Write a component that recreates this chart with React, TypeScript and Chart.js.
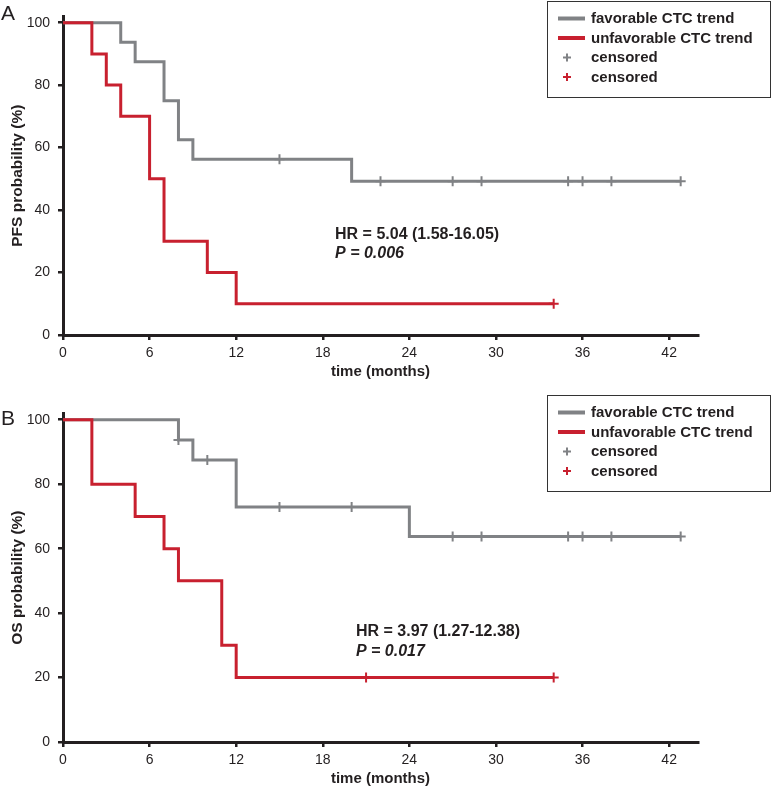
import React, { useEffect, useRef } from "react";
import { Chart, registerables } from "chart.js";
Chart.register(...registerables);

const GRAY = "#808285";
const RED = "#c8202f";
const INK = "#231f20";
const FONT = "'Liberation Sans', Arial, Helvetica, sans-serif";

// ---------- Panel A: PFS ----------
const pfsFavTimes = [0, 4, 5, 7, 8, 9, 20, 42.8];
const pfsFavSurv = [100, 93.75, 87.5, 75, 62.5, 56.25, 49.2, 49.2];
const pfsFavCensTimes = [15, 22, 27, 29, 35, 36, 38, 42.8];
const pfsFavCensSurv = [56.25, 49.2, 49.2, 49.2, 49.2, 49.2, 49.2, 49.2];
const pfsUnfTimes = [0, 2, 3, 4, 6, 7, 10, 12, 34];
const pfsUnfSurv = [100, 90, 80, 70, 50, 30, 20, 10, 10];
const pfsUnfCensTimes = [34];
const pfsUnfCensSurv = [10];
const pfsStats = ["HR = 5.04 (1.58-16.05)", "P = 0.006"];

// ---------- Panel B: OS ----------
const osFavTimes = [0, 8, 9, 12, 24, 42.8];
const osFavSurv = [100, 93.75, 87.5, 72.9, 63.8, 63.8];
const osFavCensTimes = [8, 10, 15, 20, 27, 29, 35, 36, 38, 42.8];
const osFavCensSurv = [93.75, 87.5, 72.9, 72.9, 63.8, 63.8, 63.8, 63.8, 63.8, 63.8];
const osUnfTimes = [0, 2, 5, 7, 8, 11, 12, 34];
const osUnfSurv = [100, 80, 70, 60, 50, 30, 20, 20];
const osUnfCensTimes = [21, 34];
const osUnfCensSurv = [20, 20];
const osStats = ["HR = 3.97 (1.27-12.38)", "P = 0.017"];

// ---------- axes / legend ----------
const xTickValues = [0, 6, 12, 18, 24, 30, 36, 42];
const yTickValues = [0, 20, 40, 60, 80, 100];
const xTitle = "time (months)";
const legendLabels = ["favorable CTC trend", "unfavorable CTC trend", "censored", "censored"];

const pts = (xs: number[], ys: number[]) => xs.map((x, i) => ({ x, y: ys[i] }));

const overlayPlugin = {
  id: "kmOverlay",
  afterDraw(chart: any, _args: any, opts: any) {
    const { ctx } = chart;
    const xs = chart.scales.x;
    const ys = chart.scales.y;
    ctx.save();
    // panel letter
    ctx.fillStyle = INK;
    ctx.font = `21px ${FONT}`;
    ctx.textAlign = "left";
    ctx.textBaseline = "alphabetic";
    ctx.fillText(opts.letter, 1, opts.letterBase);

    // legend box
    const bx = 547.5, by = opts.legendTop + 0.5, bw = 223, bh = 96;
    ctx.fillStyle = "#ffffff";
    ctx.fillRect(bx, by, bw, bh);
    ctx.strokeStyle = "#333333";
    ctx.lineWidth = 1;
    ctx.strokeRect(bx, by, bw, bh);
    const colors = [GRAY, RED, GRAY, RED];
    legendLabels.forEach((lab, i) => {
      const ry = opts.legendTop + 17.5 + 19.5 * i;
      ctx.strokeStyle = colors[i];
      if (i < 2) {
        ctx.lineWidth = 4;
        ctx.beginPath();
        ctx.moveTo(558, ry);
        ctx.lineTo(585, ry);
        ctx.stroke();
      } else {
        ctx.lineWidth = 2;
        ctx.beginPath();
        ctx.moveTo(563, ry);
        ctx.lineTo(571, ry);
        ctx.moveTo(567, ry - 4);
        ctx.lineTo(567, ry + 4);
        ctx.stroke();
      }
      ctx.fillStyle = INK;
      ctx.font = `bold 15px ${FONT}`;
      ctx.textBaseline = "middle";
      ctx.fillText(lab, 591, ry + 0.5);
    });

    // stats annotation
    const ax = xs.getPixelForValue(opts.statX);
    const ay = ys.getPixelForValue(opts.statY);
    ctx.fillStyle = INK;
    ctx.textBaseline = "middle";
    ctx.font = `bold 16px ${FONT}`;
    ctx.fillText(opts.stats[0], ax, ay);
    ctx.font = `italic bold 16px ${FONT}`;
    ctx.fillText(opts.stats[1], ax, ay + 19.5);
    ctx.restore();
  },
};

type PanelCfg = {
  top: number;
  height: number;
  padTop: number;
  padBottom: number;
  yTitle: string;
  fav: { x: number; y: number }[];
  favCens: { x: number; y: number }[];
  unf: { x: number; y: number }[];
  unfCens: { x: number; y: number }[];
  overlay: any;
};

function Panel({ cfg }: { cfg: PanelCfg }) {
  const ref = useRef<HTMLCanvasElement>(null);
  useEffect(() => {
    const lineDs = (data: any, color: string) => ({
      data,
      showLine: true,
      stepped: "before",
      borderColor: color,
      borderWidth: 3,
      pointRadius: 0,
      fill: false,
    });
    const censDs = (data: any, color: string) => ({
      data,
      showLine: false,
      pointStyle: "cross",
      pointRadius: 5,
      pointBorderWidth: 2,
      borderColor: color,
      backgroundColor: color,
    });
    const chart = new Chart(ref.current as HTMLCanvasElement, {
      type: "scatter",
      data: {
        datasets: [
          censDs(cfg.unfCens, RED),
          lineDs(cfg.unf, RED),
          censDs(cfg.favCens, GRAY),
          lineDs(cfg.fav, GRAY),
        ] as any,
      },
      options: {
        responsive: false,
        animation: false,
        devicePixelRatio: 1,
        layout: { padding: { left: 0, right: 75, top: cfg.padTop, bottom: cfg.padBottom } },
        plugins: {
          legend: { display: false },
          tooltip: { enabled: false },
          kmOverlay: cfg.overlay,
        } as any,
        scales: {
          x: {
            type: "linear",
            min: 0,
            max: 44,
            afterBuildTicks: (s: any) => {
              s.ticks = xTickValues.map((v) => ({ value: v }));
            },
            afterFit: (s: any) => {
              s.height = 46;
            },
            grid: {
              drawOnChartArea: false,
              drawTicks: true,
              tickLength: 5,
              tickWidth: 2.5,
              tickColor: INK,
              color: INK,
              lineWidth: 2.5,
            },
            border: { display: true, color: INK, width: 3 },
            ticks: { color: INK, padding: 5, font: { family: FONT, size: 14 }, maxRotation: 0 },
            title: {
              display: true,
              text: xTitle,
              color: INK,
              font: { family: FONT, size: 15, weight: "bold" },
              padding: { top: 0, bottom: 0 },
            },
          },
          y: {
            type: "linear",
            min: 0,
            max: 102,
            afterBuildTicks: (s: any) => {
              s.ticks = yTickValues.map((v) => ({ value: v }));
            },
            afterFit: (s: any) => {
              s.width = 63;
            },
            grid: {
              drawOnChartArea: false,
              drawTicks: true,
              tickLength: 5,
              tickWidth: 2.5,
              tickColor: INK,
              color: INK,
              lineWidth: 2.5,
            },
            border: { display: true, color: INK, width: 3 },
            ticks: { color: INK, padding: 8, font: { family: FONT, size: 14 } },
            title: {
              display: true,
              text: cfg.yTitle,
              color: INK,
              font: { family: FONT, size: 15.5, weight: "bold" },
              padding: { top: 8, bottom: 0 },
            },
          },
        },
      } as any,
      plugins: [overlayPlugin as any],
    });
    return () => chart.destroy();
  }, []);
  return (
    <canvas
      ref={ref}
      width={773}
      height={cfg.height}
      style={{ position: "absolute", left: 0, top: cfg.top, width: 773, height: cfg.height }}
    />
  );
}

const panelA: PanelCfg = {
  top: 0,
  height: 388,
  padTop: 5.6,
  padBottom: 7,
  yTitle: "PFS probability (%)",
  fav: pts(pfsFavTimes, pfsFavSurv),
  favCens: pts(pfsFavCensTimes, pfsFavCensSurv),
  unf: pts(pfsUnfTimes, pfsUnfSurv),
  unfCens: pts(pfsUnfCensTimes, pfsUnfCensSurv),
  overlay: { letter: "A", letterBase: 20, legendTop: 1, stats: pfsStats, statX: 18.85, statY: 32.3 },
};

const panelB: PanelCfg = {
  top: 388,
  height: 400,
  padTop: 25.3,
  padBottom: 0,
  yTitle: "OS probability (%)",
  fav: pts(osFavTimes, osFavSurv),
  favCens: pts(osFavCensTimes, osFavCensSurv),
  unf: pts(osUnfTimes, osUnfSurv),
  unfCens: pts(osUnfCensTimes, osUnfCensSurv),
  overlay: { letter: "B", letterBase: 37, legendTop: 7, stats: osStats, statX: 20.3, statY: 34.2 },
};

export default function App() {
  return (
    <div style={{ position: "fixed", left: 0, top: 0, width: 773, height: 788, overflow: "hidden", background: "#fff" }}>
      <Panel cfg={panelA} />
      <Panel cfg={panelB} />
    </div>
  );
}
